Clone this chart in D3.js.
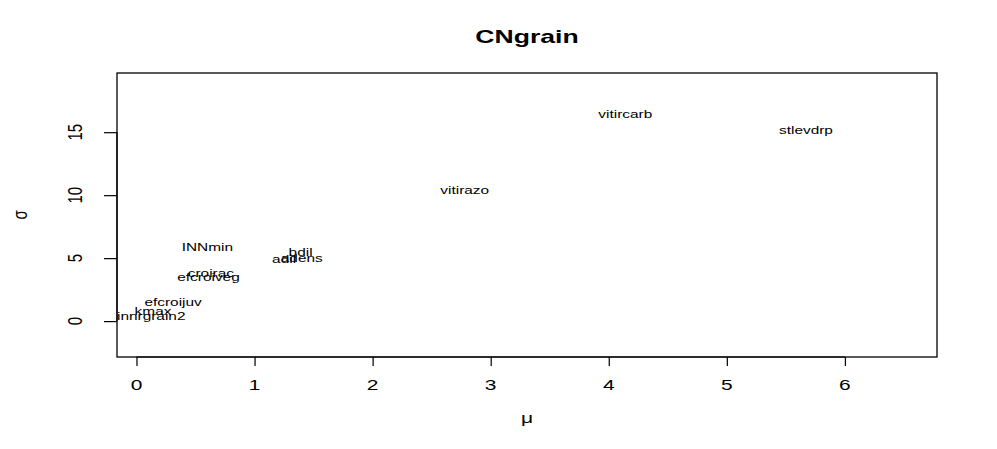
<!DOCTYPE html>
<html>
	<head>
		<style>
			body,
			html {
				margin: 0;
				padding: 0;
				background: #fff;
			}
			text {
				font-family: 'Liberation Sans', Arial, Helvetica, sans-serif;
				fill: #000;
			}
		</style>
	</head>
	<body>
		<svg id="svg" width="997" height="449"></svg>

		<script src="https://d3js.org/d3.v7.min.js"></script>
		<script>
			// variable names with their mean (mu) and sd (sigma)
			const labels = ['vitircarb', 'stlevdrp', 'vitirazo', 'INNmin', 'bdil', 'adens', 'adil',
				'croirac', 'efcroiveg', 'efcroijuv', 'kmax', 'innrgrain2'];
			const mu = [4.14, 5.67, 2.78, 0.6, 1.39, 1.4, 1.25, 0.63, 0.61, 0.31, 0.14, 0.125];
			const sigma = [16.43, 15.15, 10.4, 5.87, 5.48, 5.0, 4.9, 3.81, 3.49, 1.5, 0.79, 0.42];
			const xTicks = [0, 1, 2, 3, 4, 5, 6];
			const yTicks = [0, 5, 10, 15];

			const data = labels.map((l, i) => ({ label: l, mu: mu[i], sigma: sigma[i] }));

			const box = { left: 117, right: 937, top: 73, bottom: 357 };
			const sx = 1.4; // picture is stretched sideways

			const xscale = d3.scaleLinear().domain([-0.165, 6.78]).range([box.left, box.right]);
			const yscale = d3.scaleLinear().domain([-2.85, 19.7]).range([box.bottom, box.top]);

			const svg = d3.select('#svg');

			function stretched(x, y, extra) {
				return `translate(${x},${y}) scale(${sx},1)` + (extra || '');
			}

			// plot frame
			svg.append('rect')
				.attr('x', box.left).attr('y', box.top)
				.attr('width', box.right - box.left).attr('height', box.bottom - box.top)
				.attr('fill', 'none').attr('stroke', '#000').attr('stroke-width', 1.3);

			// labels at (mu, sigma)
			svg.append('g').selectAll('text').data(data).enter().append('text')
				.attr('transform', (d) => stretched(xscale(d.mu), yscale(d.sigma)))
				.attr('text-anchor', 'middle').attr('dy', '0.36em')
				.style('font-size', '11px')
				.text((d) => d.label);

			// x axis
			const xAxis = d3.axisBottom(xscale).tickValues(xTicks).tickSize(9).tickFormat('');
			const gx = svg.append('g').attr('transform', `translate(0,${box.bottom})`).call(xAxis);
			gx.select('.domain').attr('d', `M${xscale(0)},0H${xscale(6)}`).attr('stroke-width', 1.2);
			gx.selectAll('line').attr('stroke-width', 1.2);
			svg.append('g').selectAll('text').data(xTicks).enter().append('text')
				.attr('transform', (d) => stretched(xscale(d), 385))
				.attr('text-anchor', 'middle').attr('dy', '0.36em')
				.style('font-size', '15px')
				.text((d) => d);

			// y axis
			const yAxis = d3.axisLeft(yscale).tickValues(yTicks).tickSize(13).tickFormat('');
			const gy = svg.append('g').attr('transform', `translate(${box.left},0)`).call(yAxis);
			gy.select('.domain').attr('d', `M0,${yscale(0)}V${yscale(15)}`).attr('stroke-width', 1.2);
			gy.selectAll('line').attr('stroke-width', 1.2);
			svg.append('g').selectAll('text').data(yTicks).enter().append('text')
				.attr('transform', (d) => stretched(74, yscale(d), ' rotate(-90)'))
				.attr('text-anchor', 'middle').attr('dy', '0.36em')
				.style('font-size', '15px')
				.text((d) => d);

			// title and axis names
			svg.append('text')
				.attr('transform', stretched((box.left + box.right) / 2, 36))
				.attr('text-anchor', 'middle').attr('dy', '0.36em')
				.style('font-size', '19px').style('font-weight', 'bold')
				.text('CNgrain');
			svg.append('text')
				.attr('transform', stretched((box.left + box.right) / 2, 418))
				.attr('text-anchor', 'middle').attr('dy', '0.36em')
				.style('font-size', '15px')
				.text('μ');
			svg.append('text')
				.attr('transform', stretched(19, (box.top + box.bottom) / 2, ' rotate(-90)'))
				.attr('text-anchor', 'middle').attr('dy', '0.36em')
				.style('font-size', '15px')
				.text('σ');
		</script>
	</body>
</html>
